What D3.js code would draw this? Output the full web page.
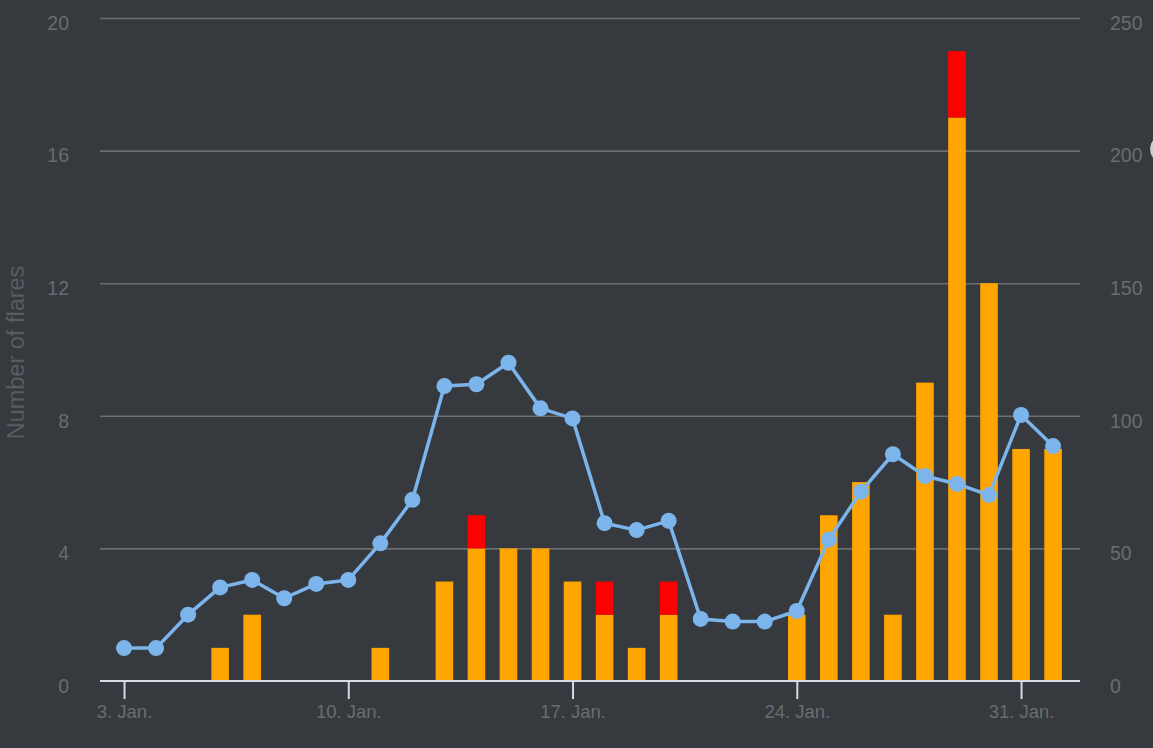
<!DOCTYPE html>
<html><head><meta charset="utf-8">
<script src="https://cdn.jsdelivr.net/npm/d3@7"></script>
<style>html,body{margin:0;padding:0;background:#36393e;}svg{display:block;}</style>
</head><body>
<svg id="chart" width="1153" height="748"></svg>
<script>
const dates = ["2020-01-03","2020-01-04","2020-01-05","2020-01-06","2020-01-07","2020-01-08","2020-01-09","2020-01-10","2020-01-11","2020-01-12","2020-01-13","2020-01-14","2020-01-15","2020-01-16","2020-01-17","2020-01-18","2020-01-19","2020-01-20","2020-01-21","2020-01-22","2020-01-23","2020-01-24","2020-01-25","2020-01-26","2020-01-27","2020-01-28","2020-01-29","2020-01-30","2020-01-31","2020-02-01"];
const cFlares = [0,0,0,1,2,0,0,0,1,0,3,4,4,4,3,2,1,2,0,0,0,2,5,6,2,9,17,12,7,7];
const mFlares = [0,0,0,0,0,0,0,0,0,0,0,1,0,0,0,1,0,1,0,0,0,0,0,0,0,0,2,0,0,0];
const sunspots = [12.4,12.4,25,35.3,38.1,31.2,36.6,38.1,51.9,68.3,111.2,111.9,120,102.8,99,59.5,56.9,60.4,23.4,22.4,22.4,26.4,53.4,71.4,85.5,77.3,74.3,70.1,100.3,88.6];
const leftTicks = [0,4,8,12,16,20];
const rightTicks = [0,50,100,150,200,250];
const xTickDates = ["2020-01-03","2020-01-10","2020-01-17","2020-01-24","2020-01-31"];
const yTitle = "Number of flares";

const parse = d3.utcParse("%Y-%m-%d");
const svg = d3.select("#chart");
const W = 1153, H = 748;
svg.append("rect").attr("width",W).attr("height",H).attr("fill","#36393e");

const plotL = 100, plotR = 1080, plotT = 18, plotB = 681;
const day = 86400000;
const t0 = parse(dates[0]).getTime();
const x = d3.scaleUtc()
  .domain([new Date(t0 - 0.75*day), new Date(t0 + 29.84*day)])
  .range([plotL, plotR]);
const yL = d3.scaleLinear().domain([0,20]).range([plotB, plotT]);
const yR = d3.scaleLinear().domain([0,250]).range([plotB, plotT]);

const font = "Arial, 'Liberation Sans', sans-serif";

// grid
const grid = svg.append("g")
  .attr("transform", `translate(${plotL},0)`)
  .call(d3.axisLeft(yL).tickValues(leftTicks.filter(v=>v>0)).tickSize(-(plotR-plotL)).tickFormat(""));
grid.select(".domain").remove();
grid.selectAll("line").attr("stroke","#6c6e70").attr("stroke-width",1.6);

// left axis labels
const gl = svg.append("g").attr("transform", `translate(${plotL},0)`)
  .call(d3.axisLeft(yL).tickValues(leftTicks).tickSize(0).tickPadding(31));
gl.select(".domain").remove();
gl.selectAll("text").attr("fill","#6a6c6f").attr("font-size",19.5).attr("font-family",font).attr("dy","0.58em");

// right axis labels
const gr = svg.append("g").attr("transform", `translate(${plotR},0)`)
  .call(d3.axisRight(yR).tickValues(rightTicks).tickSize(0).tickPadding(30));
gr.select(".domain").remove();
gr.selectAll("text").attr("fill","#6a6c6f").attr("font-size",19.5).attr("font-family",font).attr("dy","0.58em");

// y title
svg.append("text")
  .attr("transform", `translate(24,${(plotT+plotB)/2+3}) rotate(-90)`)
  .attr("text-anchor","middle")
  .attr("fill","#585c61").attr("font-size",23.5).attr("font-family",font)
  .text(yTitle);

// bars
const bw = 17.6;
const data = dates.map((d,i)=>({date:parse(d), c:cFlares[i], m:mFlares[i], s:sunspots[i]}));
svg.append("g").selectAll("rect.c").data(data.filter(d=>d.c>0)).join("rect")
  .attr("x", d=>x(d.date)-bw/2).attr("width", bw)
  .attr("y", d=>yL(d.c)).attr("height", d=>yL(0)-yL(d.c))
  .attr("fill","#ffa500");
svg.append("g").selectAll("rect.m").data(data.filter(d=>d.m>0)).join("rect")
  .attr("x", d=>x(d.date)-bw/2).attr("width", bw)
  .attr("y", d=>yL(d.c+d.m)).attr("height", d=>yL(d.c)-yL(d.c+d.m))
  .attr("fill","#ff0000");

// x axis
const gx = svg.append("g").attr("transform", `translate(0,${plotB})`)
  .call(d3.axisBottom(x).tickValues(xTickDates.map(parse)).tickSize(18).tickPadding(6)
    .tickFormat(d=>d3.utcFormat("%-d")(d)+". Jan."));
gx.select(".domain").attr("d", `M${plotL},0H${plotR}`).attr("stroke","#d5dbe5").attr("stroke-width",2);
gx.selectAll("line").attr("stroke","#d5dbe5").attr("stroke-width",2);
gx.selectAll("text").attr("fill","#6a6c6f").attr("font-size",18.5).attr("font-family",font);

// line
const line = d3.line().x(d=>x(d.date)).y(d=>yR(d.s));
svg.append("path").datum(data).attr("d",line)
  .attr("fill","none").attr("stroke","#7cb5ec").attr("stroke-width",3.5).attr("stroke-linejoin","round");
svg.append("g").selectAll("circle").data(data).join("circle")
  .attr("cx", d=>x(d.date)).attr("cy", d=>yR(d.s)).attr("r",8)
  .attr("fill","#7cb5ec");

// partially visible element at right edge
svg.append("circle").attr("cx",1164).attr("cy",149).attr("r",14).attr("fill","#c9cbce");
</script>
</body></html>
